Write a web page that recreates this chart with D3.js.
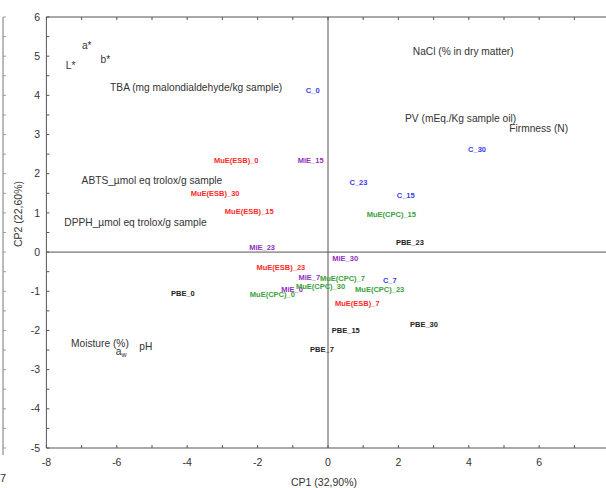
<!DOCTYPE html>
<html><head><meta charset="utf-8">
<script src="https://cdn.jsdelivr.net/npm/d3@7/dist/d3.min.js"></script>
<style>
html,body{margin:0;padding:0;background:#fff;}
svg{display:block;font-family:"Liberation Sans",Arial,sans-serif;}
</style></head>
<body>
<svg id="chart" width="606" height="488"></svg>
<script>
// Sample labels (scores) : name, CP1, CP2, group
const sampleNames = ["C_0","C_7","C_15","C_23","C_30",
  "MiE_0","MiE_7","MiE_15","MiE_23","MiE_30",
  "MuE(ESB)_0","MuE(ESB)_7","MuE(ESB)_15","MuE(ESB)_23","MuE(ESB)_30",
  "MuE(CPC)_0","MuE(CPC)_7","MuE(CPC)_15","MuE(CPC)_23","MuE(CPC)_30",
  "PBE_0","PBE_7","PBE_15","PBE_23","PBE_30"];
const sampleCP1 = [-0.63,1.56,1.95,0.61,3.98,
  -1.33,-0.84,-0.86,-2.24,0.12,
  -3.24,0.20,-2.93,-2.03,-3.90,
  -2.22,-0.23,1.10,0.77,-0.91,
  -4.46,-0.51,0.11,1.93,2.33];
const sampleCP2 = [4.13,-0.71,1.44,1.79,2.63,
  -0.94,-0.64,2.33,0.13,-0.15,
  2.33,-1.32,1.05,-0.38,1.50,
  -1.09,-0.68,0.96,-0.94,-0.88,
  -1.05,-2.48,-1.99,0.26,-1.84];
const sampleGroups = ["C","C","C","C","C",
  "MiE","MiE","MiE","MiE","MiE",
  "ESB","ESB","ESB","ESB","ESB",
  "CPC","CPC","CPC","CPC","CPC",
  "PBE","PBE","PBE","PBE","PBE"];
const groupColors = {C:"#3a3af0", MiE:"#9030c0", ESB:"#ff2a2a", CPC:"#3aa03a", PBE:"#222222"};

// Variable labels (loadings)
const varNames = ["a*","L*","b*","TBA (mg malondialdehyde/kg sample)","NaCl (% in dry matter)",
  "PV (mEq./Kg sample oil)","Firmness (N)","ABTS_\u00b5mol eq trolox/g sample",
  "DPPH_\u00b5mol eq trolox/g sample","Moisture (%)","a_w","pH"];
const varCP1 = [-6.99,-7.45,-6.46,-6.19,2.41,2.19,5.15,-7.00,-7.49,-7.30,-6.03,-5.36];
const varCP2 = [5.28,4.76,4.92,4.20,5.11,3.41,3.16,1.84,0.76,-2.33,-2.54,-2.40];

const xTicks = d3.range(-8, 8, 1);
const xTickLabels = [-8,-6,-4,-2,0,2,4,6];
const yTicks = d3.range(-5, 6.01, 0.5);
const yTickLabels = [-5,-4,-3,-2,-1,0,1,2,3,4,5,6];

const svg = d3.select("#chart");
const L = 46.4, T = 17, B = 448;
const x = d3.scaleLinear().domain([-8, 8]).range([L, L + 16*35.2]);
const y = d3.scaleLinear().domain([-5, 6]).range([B, T]);
const axisCol = "#555";

// partial neighbouring axis at far left
svg.append("line").attr("x1",3).attr("x2",3).attr("y1",T).attr("y2",455)
  .attr("stroke","#777").attr("stroke-width",1);
svg.selectAll(".ltick").data(yTicks).enter().append("line")
  .attr("x1",3).attr("x2",6).attr("y1",d=>y(d)).attr("y2",d=>y(d))
  .attr("stroke","#888").attr("stroke-width",0.8);
svg.append("text").attr("x",0).attr("y",482).attr("font-size",11).attr("fill","#333").text("7");

// frame
svg.append("line").attr("x1",L).attr("x2",606).attr("y1",T).attr("y2",T).attr("stroke",axisCol);
svg.append("line").attr("x1",L).attr("x2",606).attr("y1",B).attr("y2",B).attr("stroke",axisCol);
svg.append("line").attr("x1",L).attr("x2",L).attr("y1",T).attr("y2",B).attr("stroke",axisCol);
// zero lines
svg.append("line").attr("x1",x(0)).attr("x2",x(0)).attr("y1",T).attr("y2",B).attr("stroke",axisCol);
svg.append("line").attr("x1",L).attr("x2",606).attr("y1",y(0)).attr("y2",y(0)).attr("stroke",axisCol);

// ticks
svg.selectAll(".xtb").data(xTicks).enter().append("line")
  .attr("x1",d=>x(d)).attr("x2",d=>x(d)).attr("y1",B).attr("y2",B-3).attr("stroke",axisCol);
svg.selectAll(".xtt").data(xTicks).enter().append("line")
  .attr("x1",d=>x(d)).attr("x2",d=>x(d)).attr("y1",T).attr("y2",T+3).attr("stroke",axisCol);
svg.selectAll(".yt").data(yTicks).enter().append("line")
  .attr("x1",L).attr("x2",L+3).attr("y1",d=>y(d)).attr("y2",d=>y(d)).attr("stroke",axisCol);

svg.selectAll(".xl").data(xTickLabels).enter().append("text")
  .attr("x",d=>x(d)).attr("y",466).attr("text-anchor","middle")
  .attr("font-size",10.5).attr("fill","#333").text(d=>d);
svg.selectAll(".yl").data(yTickLabels).enter().append("text")
  .attr("x",40).attr("y",d=>y(d)).attr("dy","0.35em").attr("text-anchor","end")
  .attr("font-size",10.5).attr("fill","#333").text(d=>d);

svg.append("text").attr("x",324).attr("y",486).attr("text-anchor","middle")
  .attr("font-size",10.5).attr("fill","#333").text("CP1 (32,90%)");
svg.append("text").attr("transform","translate(22,214) rotate(-90)").attr("text-anchor","middle")
  .attr("font-size",10.5).attr("fill","#333").text("CP2 (22,60%)");

// variable labels
varNames.forEach((n,i)=>{
  const t = svg.append("text").attr("x",x(varCP1[i])).attr("y",y(varCP2[i])).attr("dy","0.35em")
    .attr("font-size",10.2).attr("fill","#333");
  if(n==="a_w"){
    t.append("tspan").text("a");
    t.append("tspan").attr("dy","0.3em").attr("font-size",7).text("w");
  } else t.text(n);
});

// sample labels
sampleNames.forEach((n,i)=>{
  svg.append("text").attr("x",x(sampleCP1[i])).attr("y",y(sampleCP2[i])).attr("dy","0.35em")
    .attr("font-size",7.5).attr("font-weight","bold").attr("fill",groupColors[sampleGroups[i]])
    .text(n);
});
</script>
</body></html>
